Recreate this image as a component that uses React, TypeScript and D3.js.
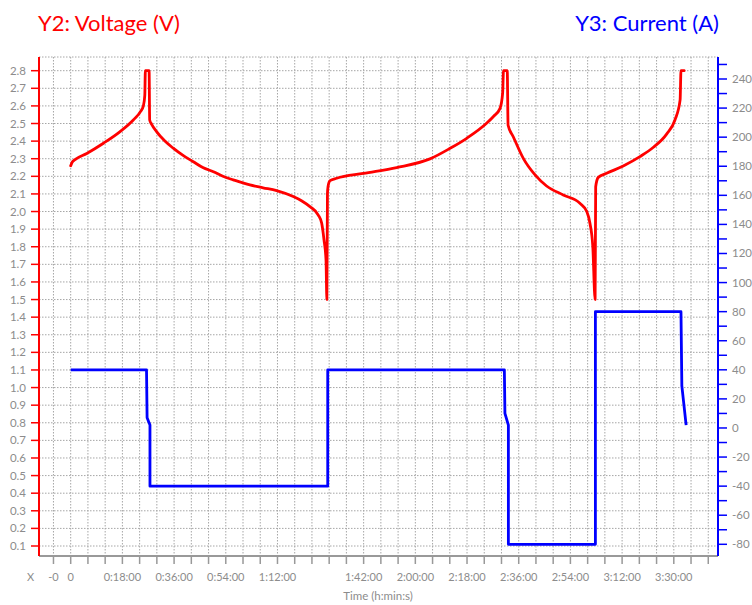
import React from "react";
import * as d3 from "d3";

// ---- data (time in minutes) ----
const voltTime = [
  0, 0.5, 1.5, 5.6, 11.4, 17.2, 21.8, 24.4, 25.3, 25.8, 26.0, 27.3, 27.5, 28.2, 29.9, 32.8, 35.7, 39, 42.7, 46, 49.7,
  53, 56.6, 62.4, 67, 71.7, 77.5, 80.5, 83.3, 86.2, 87.4, 88.2, 88.9, 89.2, 89.4, 89.6, 90.3, 92.6, 101.9, 113.5,
  125.1, 132.1, 137.9, 144.8, 147.2, 149.5, 150.4, 150.7, 152.0, 152.3, 154.1, 157.6, 161.7, 165.7, 171.5, 177.3,
  179.7, 180.8, 181.8, 182.6, 182.8, 183.7, 186.6, 192.4, 198.2, 202.9, 207.5, 210.4, 212.2, 212.5, 213.6,
];
const voltValues = [
  2.26, 2.28, 2.295, 2.33, 2.388, 2.454, 2.52, 2.57, 2.6, 2.66, 2.8, 2.8, 2.52, 2.495, 2.454, 2.4, 2.36, 2.32, 2.283,
  2.25, 2.226, 2.2, 2.18, 2.151, 2.135, 2.119, 2.085, 2.06, 2.028, 1.98, 1.933, 1.839, 1.725, 1.5, 2.1, 2.141, 2.175,
  2.189, 2.217, 2.25, 2.299, 2.359, 2.416, 2.501, 2.54, 2.586, 2.672, 2.8, 2.8, 2.49, 2.425, 2.302, 2.208, 2.145,
  2.094, 2.047, 2.0, 1.933, 1.8, 1.5, 2.141, 2.194, 2.217, 2.259, 2.312, 2.365, 2.44, 2.52, 2.634, 2.8, 2.8,
];

const currTime = [0, 26.4, 26.6, 27.6, 27.6, 89.5, 89.5, 151.0, 151.2, 152.4, 152.4, 182.7, 182.7, 212.5, 212.8, 214.3];
const currValues = [40, 40, 7, 2, -40, -40, 40, 40, 10, 2, -80, -80, 80, 80, 29, 2];

const voltTicks = [0.1, 0.2, 0.3, 0.4, 0.5, 0.6, 0.7, 0.8, 0.9, 1.0, 1.1, 1.2, 1.3, 1.4, 1.5, 1.6, 1.7, 1.8, 1.9, 2.0, 2.1, 2.2, 2.3, 2.4, 2.5, 2.6, 2.7, 2.8];
const currTicks = [-80, -70, -60, -50, -40, -30, -20, -10, 0, 10, 20, 30, 40, 50, 60, 70, 80, 90, 100, 110, 120, 130, 140, 150, 160, 170, 180, 190, 200, 210, 220, 230, 240, 250];
const currLabels = [-80, -60, -40, -20, 0, 20, 40, 60, 80, 100, 120, 140, 160, 180, 200, 220, 240];
const timeGrid = d3.range(-6, 223, 6);
const timeLabelPos = [-6, 0, 18, 36, 54, 72, 102, 120, 138, 156, 174, 192, 210];
const timeLabelText = ["-0", "0", "0:18:00", "0:36:00", "0:54:00", "1:12:00", "1:42:00", "2:00:00", "2:18:00", "2:36:00", "2:54:00", "3:12:00", "3:30:00"];

const W = 752;
const H = 605;
const left = 39;
const right = 718;
const top = 57;
const bottom = 556;

export default function App() {
  const x = d3.scaleLinear().domain([0, 210]).range([70.7, 673.8]);
  const yV = d3.scaleLinear().domain([0.1, 2.8]).range([546, 70.7]);
  const yA = d3.scaleLinear().domain([-80, 240]).range([544.3, 79]);

  const voltLine = d3
    .line<number>()
    .x((_, i) => x(voltTime[i]))
    .y((v) => yV(v))
    .curve(d3.curveMonotoneX)(voltValues) as string;
  const currLine = d3
    .line<number>()
    .x((_, i) => x(currTime[i]))
    .y((v) => yA(v))(currValues) as string;

  const font = "Lato, 'Open Sans', sans-serif";
  const grey = "#8c8c8c";
  const gridColor = "#a6a6a6";

  return (
    <svg width={W} height={H} style={{ position: "absolute", left: 0, top: 0 }} fontFamily={font}>
      <rect x={0} y={0} width={W} height={H} fill="#fff" />
      {/* titles */}
      <text x={38} y={31} fontSize={22} fill="#ff0000">Y2: Voltage (V)</text>
      <text x={719} y={31} fontSize={22} fill="#0000ff" textAnchor="end">Y3: Current (A)</text>

      {/* grid */}
      <line x1={left} x2={right} y1={top} y2={top} stroke={gridColor} strokeWidth={1} strokeDasharray="1.5,1.5" />
      {voltTicks.map((v) => (
        <line key={"hg" + v} x1={left} x2={right} y1={yV(v)} y2={yV(v)} stroke={gridColor} strokeWidth={1} strokeDasharray="1.5,1.5" />
      ))}
      {timeGrid.map((t) => (
        <line key={"vg" + t} x1={x(t)} x2={x(t)} y1={top} y2={bottom} stroke={gridColor} strokeWidth={1} strokeDasharray="1.5,1.5" />
      ))}

      {/* x axis */}
      <line x1={left} x2={right} y1={bottom} y2={bottom} stroke="#999" strokeWidth={2} />
      {timeGrid.map((t) => (
        <line key={"xt" + t} x1={x(t)} x2={x(t)} y1={bottom} y2={bottom + 8} stroke="#999" strokeWidth={1.5} />
      ))}
      {timeLabelPos.map((t, i) => (
        <text key={"xl" + t} x={x(t)} y={580.5} fontSize={11} fill={grey} textAnchor="middle">
          {timeLabelText[i]}
        </text>
      ))}
      <text x={30.5} y={580.5} fontSize={11} fill={grey} textAnchor="middle">X</text>
      <text x={378} y={600} fontSize={11.5} fill={grey} textAnchor="middle">Time (h:min:s)</text>

      {/* left axis */}
      <line x1={left} x2={left} y1={top} y2={bottom} stroke="#ff0000" strokeWidth={2} />
      {voltTicks.map((v) => (
        <g key={"lt" + v}>
          <line x1={left - 8} x2={left} y1={yV(v)} y2={yV(v)} stroke="#ff0000" strokeWidth={1.5} />
          <text x={26} y={yV(v) + 4} fontSize={11.5} fill={grey} textAnchor="end">
            {v.toFixed(1)}
          </text>
        </g>
      ))}

      {/* right axis */}
      <line x1={right} x2={right} y1={top} y2={bottom} stroke="#0000ff" strokeWidth={2} />
      {currTicks.map((a) => (
        <line key={"rt" + a} x1={right} x2={right + 9} y1={yA(a)} y2={yA(a)} stroke="#0000ff" strokeWidth={1.5} />
      ))}
      {currLabels.map((a) => (
        <text key={"rl" + a} x={732} y={yA(a) + 4} fontSize={11.5} fill={grey}>
          {String(a)}
        </text>
      ))}

      {/* series */}
      <path d={currLine} fill="none" stroke="#0000ff" strokeWidth={2.8} strokeLinejoin="round" />
      <path d={voltLine} fill="none" stroke="#ff0000" strokeWidth={2.8} strokeLinejoin="round" strokeLinecap="round" />
    </svg>
  );
}
